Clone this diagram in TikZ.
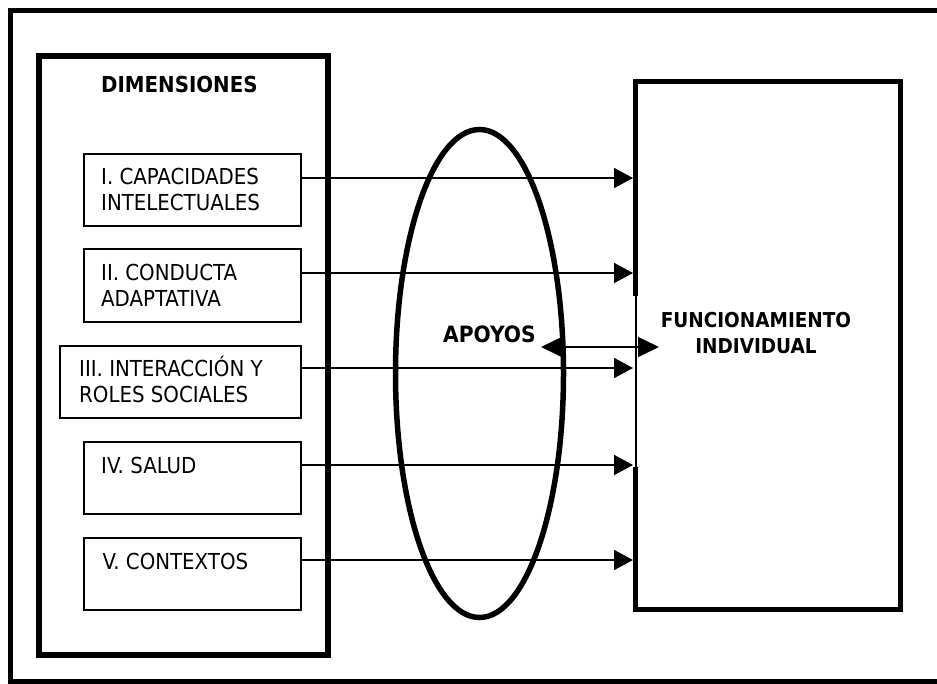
\documentclass[tikz,border=0pt]{standalone}
\usepackage{fontspec}
\setmainfont{DejaVu Sans Condensed}
\usetikzlibrary{arrows.meta,shapes.geometric}
\begin{document}
\begin{tikzpicture}[x=1pt,y=-1pt,
  heavy/.style={line width=5.5pt},
  itembox/.style={draw,line width=1.8pt,anchor=north west,inner sep=0pt,minimum width=216.7pt},
  itemtxt/.style={anchor=base west,inner sep=0pt,align=left,font=\fontsize{22}{26}\selectfont},
  boldtxt/.style={inner sep=0pt,font=\bfseries\fontsize{22}{26}\selectfont},
  arr/.style={line width=1.6pt,-{Triangle[length=19pt,width=20pt]}},
  darr/.style={line width=1.6pt,{Triangle[length=21pt,width=20pt]}-{Triangle[length=21pt,width=20pt]}}]
\useasboundingbox (0,0) rectangle (937,683);
\clip (0,0) rectangle (937,683);
% outer frame
\draw[heavy] (10.5,10.5) rectangle (950,681.5);
% dimensions box
\node[draw,line width=6pt,anchor=north west,inner sep=0pt,minimum width=289pt,minimum height=599.5pt] (dimbox) at (35.5,52.5) {};
\node[boldtxt,anchor=base west] (dimtitle) at (101,92) {DIMENSIONES};
% item boxes
\node[itembox,minimum height=71.7pt] (b1) at (83.3,153.3) {};
\node[itembox,minimum height=72.7pt] (b2) at (83.3,248.3) {};
\node[itembox,minimum height=72.3pt,minimum width=240.7pt] (b3) at (59.3,345) {};
\node[itembox,minimum height=72pt] (b4) at (83.3,441) {};
\node[itembox,minimum height=72pt] (b5) at (83.3,537) {};
\node[itemtxt] (t1) at (101,210.7) {I. CAPACIDADES\\INTELECTUALES};
\node[itemtxt] (t2) at (101,306.7) {II. CONDUCTA\\ADAPTATIVA};
\node[itemtxt] (t3) at (79,402.7) {III. INTERACCIÓN Y\\ROLES SOCIALES};
\node[itemtxt] (t4) at (101,473) {IV. SALUD};
\node[itemtxt] (t5) at (102.5,569) {V. CONTEXTOS};
% ellipse
\node[draw,ellipse,line width=5.5pt,inner sep=0pt,minimum width=168pt,minimum height=488pt] (apoyos) at (479.5,373.5) {};
\node[boldtxt,anchor=base west,font=\bfseries\fontsize{22.5}{26}\selectfont] (apoyoslbl) at (443,342) {APOYOS};
% right box
\node[inner sep=0pt,anchor=north west,minimum width=264.5pt,minimum height=527.5pt] (fbox) at (635.5,81.5) {};
\draw[heavy] (fbox.north west |- 0,296) -- (fbox.north west) -- (fbox.north east) -- (fbox.south east) -- (fbox.south west) -- (fbox.south west |- 0,467);
\draw[line width=2pt] ([xshift=0.5pt]fbox.north west |- 0,296) -- ([xshift=0.5pt]fbox.north west |- 0,467);
\node[boldtxt,anchor=base,align=center,font=\bfseries\fontsize{20.5}{26}\selectfont] (funtxt) at (756,353) {FUNCIONAMIENTO\\INDIVIDUAL};
% arrows
\coordinate (y1) at (0,178);
\coordinate (y2) at (0,273);
\coordinate (y3) at (0,368);
\coordinate (y4) at (0,465);
\coordinate (y5) at (0,560);
\foreach \i in {1,...,5}{
  \draw[arr,shorten >=2.5pt] (b\i.east |- y\i) -- (fbox.west |- y\i);
}
\coordinate (d1) at (541,347);
\coordinate (d2) at (659,347);
\draw[darr] (d1) -- (d2);
\end{tikzpicture}
\end{document}
